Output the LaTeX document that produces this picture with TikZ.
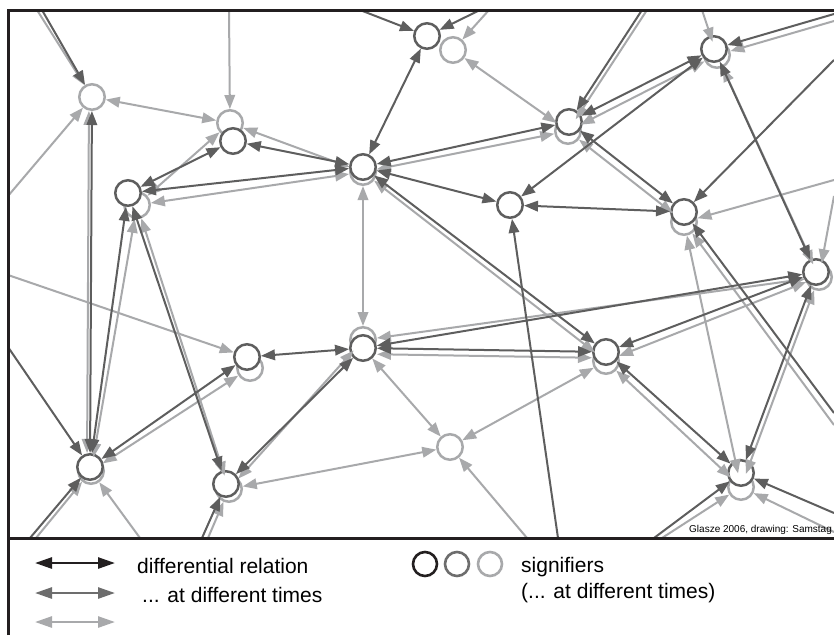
\documentclass[tikz,border=0pt]{standalone}
\usepackage{fontspec}
\setmainfont{Liberation Sans}
\usetikzlibrary{arrows.meta}
\definecolor{dk}{HTML}{5E5E5E}
\definecolor{lt}{HTML}{A8A9AB}
\definecolor{fr}{HTML}{231F20}
\definecolor{lgdk}{HTML}{6D6D6D}
\begin{document}
\begin{tikzpicture}[x=1pt,y=-1pt,
  >={Triangle[length=14pt,width=10.5pt]},
  sig/.style={circle,draw=dk,fill=white,line width=2.5pt,minimum size=25.5pt,inner sep=0pt},
  ghost/.style={sig,draw=lt},
  dkline/.style={draw=dk,line width=2pt},
  ltline/.style={draw=lt,line width=2pt},
  dd/.style={dkline,<->}, dr/.style={dkline,->},
  ll/.style={ltline,<->}, lr/.style={ltline,->},
  leg/.style={line width=2.6pt,arrows={Triangle[length=17pt,width=11pt]-Triangle[length=17pt,width=11pt]}},
  lcirc/.style={circle,fill=white,line width=2.6pt,minimum size=24pt,inner sep=0pt},
  legtext/.style={anchor=base west,inner sep=0pt,font=\fontsize{21}{25}\selectfont}
]
\useasboundingbox (0,0) rectangle (834,635);
\fill[white] (0,0) rectangle (834,635);

% signifiers (light ghosts first)
\node[ghost] (a) at (92,97) {};
\node[ghost] (bg) at (230,123) {};
\node[sig] (b) at (233,141) {};
\node[ghost] (cg) at (137,205) {};
\node[sig] (c) at (128,193) {};
\node[ghost] (dg) at (453,50) {};
\node[sig] (d) at (427,36) {};
\node[ghost] (eg) at (363,172) {};
\node[sig] (e) at (363,167) {};
\node[sig] (f) at (510,205) {};
\node[ghost] (gg) at (568,131) {};
\node[sig] (g) at (569,122) {};
\node[ghost] (hg) at (717,55) {};
\node[sig] (h) at (714,49) {};
\node[ghost] (ig) at (684,222) {};
\node[sig] (i) at (684,212) {};
\node[ghost] (jg) at (819,277) {};
\node[sig] (j) at (816,272) {};
\node[ghost] (kg) at (250,368) {};
\node[sig] (k) at (247,357) {};
\node[ghost] (lg) at (363,340) {};
\node[sig] (l) at (363,348) {};
\node[ghost] (mg) at (606,361) {};
\node[sig] (m) at (606,352) {};
\node[ghost] (n) at (450,447) {};
\node[ghost] (og) at (91,471) {};
\node[sig] (o) at (90,467) {};
\node[ghost] (pg) at (229,489) {};
\node[sig] (p) at (226,484) {};
\node[ghost] (qg) at (741,487) {};
\node[sig] (q) at (741,473) {};

% free ends outside the frame
\coordinate (T1) at (42,10);  \coordinate (T1g) at (37,10);
\coordinate (T2) at (229,10);
\coordinate (T3) at (360,10);
\coordinate (T4) at (480,10);
\coordinate (T5) at (489,10);
\coordinate (T6) at (642,10); \coordinate (T6g) at (647,10);
\coordinate (T7) at (702,10);
\coordinate (R1) at (834,14);  \coordinate (R1g) at (834,21);
\coordinate (R2) at (834,60);
\coordinate (R3) at (834,180);
\coordinate (R4) at (834,196);
\coordinate (R5) at (834,413); \coordinate (R5g) at (834,425);
\coordinate (R6) at (834,513); \coordinate (R6g) at (834,532);
\coordinate (L1) at (8,196);
\coordinate (L2) at (8,275);
\coordinate (L3) at (8,347);
\coordinate (B1) at (30,538);  \coordinate (B1g) at (36,538);
\coordinate (B2) at (140,538);
\coordinate (B3) at (202,538); \coordinate (B3g) at (208,538);
\coordinate (B4) at (527,538);
\coordinate (B5) at (558,538);
\coordinate (B6) at (654,538); \coordinate (B6g) at (662,538);

\begin{scope}
\clip (8,10) rectangle (834,538);
% light relations
\draw[ll] (a) -- (bg);
\draw[ll] (bg) -- (cg);
\draw[ll] (bg) -- (eg);
\draw[ll] (cg) -- (eg);
\draw[ll] (dg) -- (gg);
\draw[ll] (eg) -- (gg);
\draw[ll] (eg) -- (mg);
\draw[ll] (eg) -- (lg);
\draw[ll] (gg) -- (hg);
\draw[ll] (gg) -- (ig);
\draw[ll] (hg) -- (jg);
\draw[ll] (ig) -- (qg);
\draw[ll] (mg) -- (jg);
\draw[ll] (lg) -- (jg);
\draw[ll,transform canvas={yshift=-6pt}] (l) -- (m);
\draw[ll] (pg) -- (lg);
\draw[ll] (l) -- (n);
\draw[ll] (n) -- (mg);
\draw[ll] (n) -- (pg);
\draw[ll] (mg) -- (qg);
\draw[ll] (jg) -- (qg);
\draw[ll] (cg) -- (og);
\draw[ll] (cg) -- (pg);
\draw[ll] (og) -- (kg);
\draw[ll,transform canvas={xshift=-3pt}] (o) -- (a);
\draw[lr] (T1g) -- (a);
\draw[lr] (T2) -- (bg);
\draw[lr] (T5) -- (dg);
\draw[lr] (T6g) -- (gg);
\draw[lr] (T7) -- (hg);
\draw[lr] (R1g) -- (hg);
\draw[lr] (R3) -- (ig);
\draw[lr] (R4) -- (jg);
\draw[lr] (R5g) -- (ig);
\draw[lr] (R6g) -- (qg);
\draw[lr] (L1) -- (a);
\draw[lr] (L2) -- (k);
\draw[lr] (B1g) -- (og);
\draw[lr] (B2) -- (og);
\draw[lr] (B3g) -- (pg);
\draw[lr] (B4) -- (n);
\draw[lr] (B6g) -- (qg);
% dark relations
\draw[dd] (b) -- (c);
\draw[dd] (b) -- (e);
\draw[dd] (c) -- (e);
\draw[dd] (d) -- (e);
\draw[dd] (e) -- (g);
\draw[dd] (e) -- (f);
\draw[dd] (f) -- (h);
\draw[dd] (f) -- (i);
\draw[dd] (e) -- (m);
\draw[dd] (g) -- (h);
\draw[dd] (g) -- (i);
\draw[dd] (h) -- (j);
\draw[dd] (m) -- (j);
\draw[dd] (l) -- (j);
\draw[dd] (l) -- (m);
\draw[dd] (k) -- (l);
\draw[dd] (p) -- (l);
\draw[dd] (m) -- (q);
\draw[dd] (j) -- (q);
\draw[dd] (c) -- (o);
\draw[dd] (c) -- (p);
\draw[dd] (o) -- (k);
\draw[dd] (o) -- (a);
\draw[dr] (T1) -- (a);
\draw[dr] (T3) -- (d);
\draw[dr] (T4) -- (d);
\draw[dr] (T6) -- (g);
\draw[dr] (R1) -- (h);
\draw[dr] (R2) -- (i);
\draw[dr] (R5) -- (i);
\draw[dr] (R6) -- (q);
\draw[dr] (L3) -- (o);
\draw[dr] (B1) -- (o);
\draw[dr] (B3) -- (p);
\draw[dr] (B5) -- (f);
\draw[dr] (B6) -- (q);
\end{scope}

% frame
\draw[fr,line width=3pt] (8,635) -- (8,10) -- (840,10);
\draw[fr,line width=3pt] (8,538) -- (840,538);
\node[anchor=base west,inner sep=0pt,font=\fontsize{10}{12}\selectfont] (credit) at (689,532) {Glasze 2006, drawing: Samstag};

% legend
\coordinate (LA1) at (35,563); \coordinate (LA2) at (115,563);
\coordinate (LB1) at (35,593); \coordinate (LB2) at (115,593);
\coordinate (LC1) at (35,622); \coordinate (LC2) at (115,622);
\draw[leg,draw=fr] (LA1) -- (LA2);
\draw[leg,draw=lgdk] (LB1) -- (LB2);
\draw[leg,draw=lt] (LC1) -- (LC2);
\node[legtext] (t1) at (137,573) {differential relation};
\node[legtext] (t2) at (142,602) {... at different times};
\node[lcirc,draw=fr] (s1) at (425,564) {};
\node[lcirc,draw=lgdk] (s2) at (457,564) {};
\node[lcirc,draw=lt] (s3) at (490,564) {};
\node[legtext] (t3) at (521,572) {signifiers};
\node[legtext] (t4) at (521,598) {(... at different times)};
\end{tikzpicture}
\end{document}
